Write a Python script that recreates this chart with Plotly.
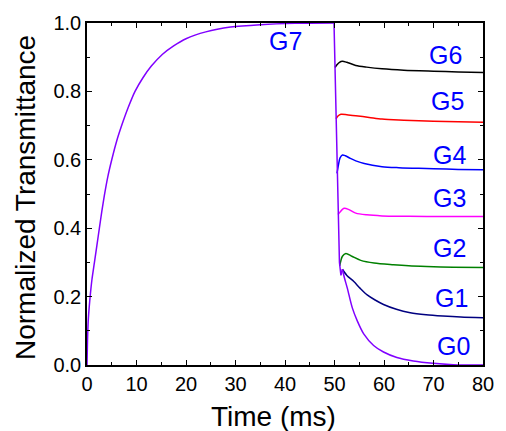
import plotly.graph_objects as go

# ---- data ----
rise_t = [0, 0.1, 0.25, 0.45, 0.7, 1.0, 1.5, 2.0, 2.5, 3.0, 3.5, 4.2, 5.0, 6.0, 7.0, 8.3, 9.7,
          11.3, 13.0, 15.2, 17.5, 20.0, 24.0, 29.0, 35.0, 42.0, 49.9]
rise_v = [0, 0.07, 0.13, 0.17, 0.21, 0.25, 0.30, 0.35, 0.40, 0.45, 0.495, 0.55, 0.60, 0.655, 0.70,
          0.752, 0.80, 0.84, 0.874, 0.908, 0.933, 0.954, 0.974, 0.988, 0.995, 0.999, 1.0]

drop_t = [49.9, 50.1, 50.3, 50.5, 50.7, 51.0, 51.3, 51.6]
drop_v = [1.0, 0.87, 0.72, 0.56, 0.44, 0.30, 0.262, 0.28]

g0_t = [51.6, 52.0, 52.6, 53.6, 54.6, 55.9, 57.9, 59.9, 62.6, 65.9, 69.9, 74.0, 80.0]
g0_v = [0.28, 0.255, 0.224, 0.167, 0.129, 0.091, 0.057, 0.038, 0.022, 0.012, 0.005, 0.001, 0.0]

g1_t = [51.6, 52.5, 53.9, 55.2, 56.6, 58.2, 59.9, 62.5, 65.3, 68.5, 71.9, 75.5, 80]
g1_v = [0.28, 0.262, 0.244, 0.224, 0.205, 0.19, 0.177, 0.163, 0.153, 0.147, 0.143, 0.14, 0.138]

g2_t = [51.05, 51.6, 52.3, 53.5, 55.3, 58, 61.9, 65, 68.6, 74, 80]
g2_v = [0.29, 0.318, 0.326, 0.318, 0.306, 0.298, 0.293, 0.29, 0.288, 0.286, 0.285]

g3_t = [50.7, 51.1, 51.6, 52.0, 52.8, 54.3, 56.5, 59.6, 65, 72, 80]
g3_v = [0.44, 0.447, 0.455, 0.458, 0.455, 0.444, 0.439, 0.436, 0.435, 0.434, 0.434]

g4_t = [50.5, 50.8, 51.1, 51.6, 52.2, 53.2, 54.3, 56, 59.6, 63, 67, 70, 75, 80]
g4_v = [0.56, 0.585, 0.605, 0.614, 0.612, 0.604, 0.597, 0.589, 0.58, 0.577, 0.575, 0.574, 0.572, 0.571]

g5_t = [50.3, 50.7, 51.3, 52.5, 54.3, 57, 59.6, 64, 70, 75, 80]
g5_v = [0.72, 0.728, 0.733, 0.732, 0.729, 0.724, 0.719, 0.716, 0.713, 0.711, 0.71]

g6_t = [50.1, 50.5, 51.0, 51.6, 52.5, 54.3, 56.5, 59.6, 64, 70, 75, 80]
g6_v = [0.87, 0.878, 0.885, 0.888, 0.885, 0.876, 0.871, 0.866, 0.862, 0.859, 0.857, 0.855]

labels = ["G7", "G6", "G5", "G4", "G3", "G2", "G1", "G0"]
label_x = [40.1, 72.4, 72.8, 73.2, 73.2, 73.2, 73.6, 74.0]
label_y = [0.948, 0.907, 0.771, 0.613, 0.487, 0.341, 0.195, 0.057]

x_ticks = [0, 10, 20, 30, 40, 50, 60, 70, 80]
y_ticks = [0.0, 0.2, 0.4, 0.6, 0.8, 1.0]

FONT = "Arial, Liberation Sans, sans-serif"
PURPLE = "#8000FF"

fig = go.Figure()
series = [
    (g6_t, g6_v, "#000000"),
    (g5_t, g5_v, "#FF0000"),
    (g4_t, g4_v, "#0000FF"),
    (g3_t, g3_v, "#FF00FF"),
    (g2_t, g2_v, "#008000"),
    (g1_t, g1_v, "#000080"),
]
for t, v, c in series:
    fig.add_trace(go.Scatter(x=t, y=v, mode="lines",
                             line=dict(color=c, width=1.5, shape="spline", smoothing=0.8),
                             showlegend=False, hoverinfo="skip"))

# G0 / G7 (purple): rise, fast drop, decay
fig.add_trace(go.Scatter(x=rise_t, y=rise_v, mode="lines",
                         line=dict(color=PURPLE, width=1.5, shape="spline", smoothing=0.8),
                         showlegend=False, hoverinfo="skip"))
fig.add_trace(go.Scatter(x=drop_t, y=drop_v, mode="lines",
                         line=dict(color=PURPLE, width=1.5),
                         showlegend=False, hoverinfo="skip"))
fig.add_trace(go.Scatter(x=g0_t, y=g0_v, mode="lines",
                         line=dict(color=PURPLE, width=1.5, shape="spline", smoothing=0.8),
                         showlegend=False, hoverinfo="skip"))

for lab, lx, ly in zip(labels, label_x, label_y):
    fig.add_annotation(x=lx, y=ly, xref="x", yref="y", text=lab, showarrow=False,
                       font=dict(family=FONT, size=25, color="#0000FF"),
                       xanchor="center", yanchor="middle")

fig.add_annotation(x=0.47, y=-0.1, xref="paper", yref="paper", text="Time (ms)", showarrow=False,
                   font=dict(family=FONT, size=28, color="black"), xanchor="center", yanchor="top")
fig.add_annotation(x=-0.155, y=0.49, xref="paper", yref="paper", text="Normalized Transmittance",
                   showarrow=False, textangle=-90,
                   font=dict(family=FONT, size=28, color="black"), xanchor="center", yanchor="middle")

axis_common = dict(showgrid=False, zeroline=False, showline=True, linecolor="black", linewidth=1.5,
                   mirror="ticks", ticks="inside", ticklen=5, tickwidth=1.2, tickcolor="black",
                   tickfont=dict(family=FONT, size=20, color="black"))
fig.update_xaxes(range=[0, 80], tickvals=x_ticks, ticktext=[str(v) for v in x_ticks],
                 minor=dict(dtick=5, ticks="inside", ticklen=3, tickcolor="black", tickwidth=1.2),
                 **axis_common)
fig.update_yaxes(range=[0, 1.0], tickvals=y_ticks, ticktext=[f"{v:.1f}" for v in y_ticks],
                 minor=dict(dtick=0.1, ticks="inside", ticklen=3, tickcolor="black", tickwidth=1.2),
                 **axis_common)

fig.update_layout(width=506, height=431, margin=dict(l=87, r=20, t=16, b=66),
                  plot_bgcolor="white", paper_bgcolor="white", font=dict(family=FONT))

fig.write_html("out.html")
